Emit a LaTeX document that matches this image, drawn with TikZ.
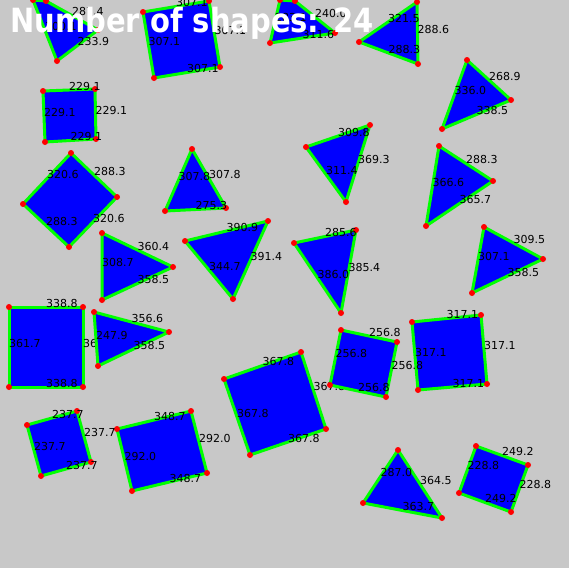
\documentclass[tikz,border=0pt]{standalone}
\usepackage{fontspec}
\setmainfont{DejaVu Sans}
\usepackage{graphicx}
\usetikzlibrary{calc}
\definecolor{CvBack}{RGB}{200,200,200}
\definecolor{CvFill}{RGB}{0,0,255}
\definecolor{CvLine}{RGB}{0,255,0}
\definecolor{CvDot}{RGB}{255,0,0}
\tikzset{
  shp/.style={
    draw=CvLine, fill=CvFill, line width=3pt, line join=round},
  vtx/.style={
    fill=CvDot},
  lbl/.style={
    anchor=base west, inner sep=0pt, text=black,
    font=\fontsize{11}{11}\selectfont},
  ttl/.style={
    anchor=base west, inner sep=0pt, text=white,
    font=\fontsize{29}{29}\selectfont\bfseries},
}
% triangle: name, three corners, three side labels
\newcommand\cvtri[7]{%
  \coordinate (#1a) at #2;
  \coordinate (#1b) at #3;
  \coordinate (#1c) at #4;
  \draw[shp] (#1a) -- (#1b) -- (#1c) -- cycle;
  \foreach \vx in {a,b,c} \fill[vtx] (#1\vx) circle (3pt);
  \node[lbl] (#1ab) at ($(#1a)!.5!(#1b)$) {#5};
  \node[lbl] (#1bc) at ($(#1b)!.5!(#1c)$) {#6};
  \node[lbl] (#1ca) at ($(#1c)!.5!(#1a)$) {#7};
}
% quadrilateral: name, four corners, four side labels
\newcommand\cvquad[9]{%
  \coordinate (#1a) at #2;
  \coordinate (#1b) at #3;
  \coordinate (#1c) at #4;
  \coordinate (#1d) at #5;
  \draw[shp] (#1a) -- (#1b) -- (#1c) -- (#1d) -- cycle;
  \foreach \vx in {a,b,c,d} \fill[vtx] (#1\vx) circle (3pt);
  \node[lbl] (#1ab) at ($(#1a)!.5!(#1b)$) {#6};
  \node[lbl] (#1bc) at ($(#1b)!.5!(#1c)$) {#7};
  \node[lbl] (#1cd) at ($(#1c)!.5!(#1d)$) {#8};
  \node[lbl] (#1da) at ($(#1d)!.5!(#1a)$) {#9};
}

\begin{document}
\begin{tikzpicture}[x=1pt,y=-1pt]
\useasboundingbox (0,0) rectangle (569,568);
\fill[CvBack] (0,0) rectangle (569,568);
\clip (0,0) rectangle (569,568);

% bottom row
\cvtri{tA}{(398,450)}{(442,518)}{(363,503)}{364.5}{363.7}{287.0}
\cvquad{qB}{(476,446)}{(528,465)}{(511,512)}{(459,493)}{249.2}{228.8}{249.2}{228.8}
\cvquad{qC}{(117,429)}{(191,411)}{(207,473)}{(132,491)}{348.7}{292.0}{348.7}{292.0}
\cvquad{qD}{(27,425)}{(77,411)}{(91,462)}{(41,476)}{237.7}{237.7}{237.7}{237.7}
\cvquad{qE}{(224,379)}{(301,352)}{(326,429)}{(250,455)}{367.8}{367.8}{367.8}{367.8}
\cvquad{qF}{(412,322)}{(481,315)}{(487,384)}{(418,390)}{317.1}{317.1}{317.1}{317.1}
\cvquad{qG}{(341,330)}{(397,342)}{(386,397)}{(330,385)}{256.8}{256.8}{256.8}{256.8}
\cvquad{qH}{(9,307)}{(83,307)}{(83,387)}{(9,387)}{338.8}{361.7}{338.8}{361.7}
\cvtri{tI}{(94,312)}{(169,332)}{(98,366)}{356.6}{358.5}{247.9}

% middle rows
\cvtri{tJ}{(102,233)}{(173,267)}{(102,300)}{360.4}{358.5}{308.7}
\cvtri{tK}{(294,243)}{(356,230)}{(341,313)}{285.6}{385.4}{386.0}
\cvtri{tL}{(484,227)}{(543,259)}{(472,293)}{309.5}{358.5}{307.1}
\cvtri{tM}{(185,241)}{(268,221)}{(233,299)}{390.9}{391.4}{344.7}
\cvtri{tN}{(439,146)}{(493,181)}{(426,226)}{288.3}{365.7}{366.6}
\cvtri{tO}{(192,149)}{(226,208)}{(165,211)}{307.8}{275.3}{307.8}
\cvquad{qP}{(71,153)}{(117,197)}{(69,247)}{(23,204)}{288.3}{320.6}{288.3}{320.6}
\cvtri{tQ}{(306,147)}{(370,125)}{(346,202)}{309.8}{369.3}{311.4}

% top rows
\cvtri{tR}{(467,60)}{(511,100)}{(442,129)}{268.9}{338.5}{336.0}
\cvquad{qS}{(43,91)}{(95,89)}{(96,139)}{(45,142)}{229.1}{229.1}{229.1}{229.1}
\cvtri{tT}{(359,42)}{(417,2)}{(418,64)}{321.5}{288.6}{288.3}
\cvquad{qU}{(33,0)}{(46,1)}{(98,30)}{(57,61)}{}{287.4}{233.9}{300.1}
\cvquad{qV}{(143,12)}{(209,1)}{(220,67)}{(154,78)}{307.1}{307.1}{307.1}{307.1}
\cvquad{qW}{(270,43)}{(280,0)}{(295,1)}{(335,33)}{283.1}{}{240.0}{311.6}

\node[ttl] (title) at (10,32) {\scalebox{1}[1.15]{Number of shapes: 24}};
\end{tikzpicture}
\end{document}
